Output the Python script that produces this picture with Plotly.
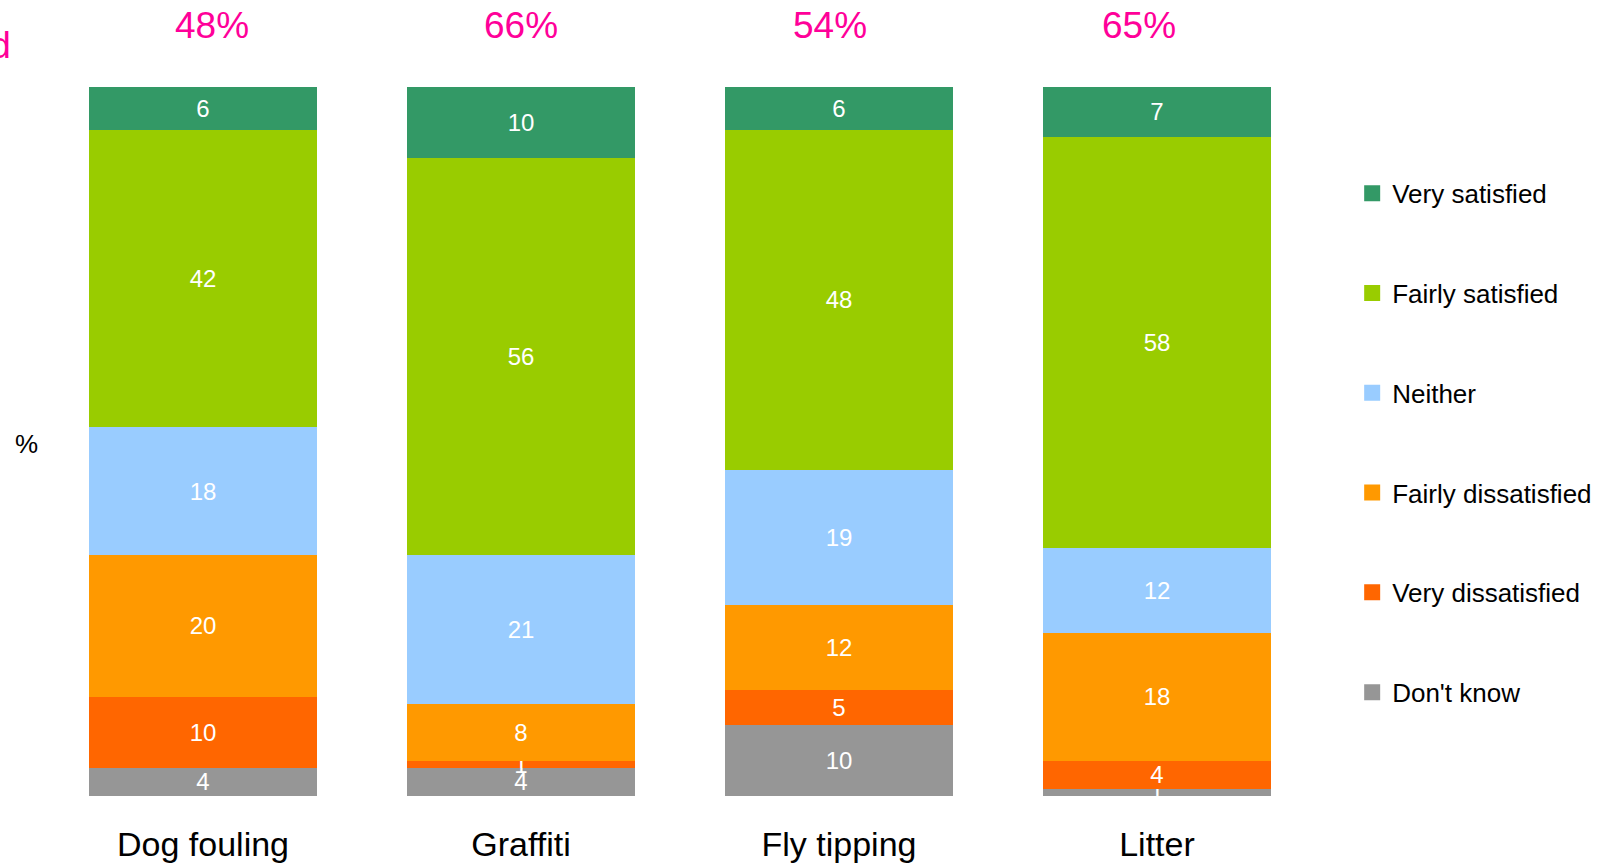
import plotly.graph_objects as go

categories = ['Dog fouling', 'Graffiti', 'Fly tipping', 'Litter']
satisfied_pct = ['48%', '66%', '54%', '65%']

# stacked bottom -> top
dont_know = [4, 4, 10, 1]
very_dissatisfied = [10, 1, 5, 4]
fairly_dissatisfied = [20, 8, 12, 18]
neither = [18, 21, 19, 12]
fairly_satisfied = [42, 56, 48, 58]
very_satisfied = [6, 10, 6, 7]

series = [
    ("Don't know", dont_know, '#969696'),
    ('Very dissatisfied', very_dissatisfied, '#FF6600'),
    ('Fairly dissatisfied', fairly_dissatisfied, '#FF9900'),
    ('Neither', neither, '#99CCFF'),
    ('Fairly satisfied', fairly_satisfied, '#99CC00'),
    ('Very satisfied', very_satisfied, '#339966'),
]

FONT = 'Liberation Sans, Arial, sans-serif'
PINK = '#FF0099'

fig = go.Figure()
for i, (name, vals, col) in enumerate(series):
    fig.add_trace(go.Bar(
        x=categories, y=vals, name=name, legendgroup=name, showlegend=False,
        marker=dict(color=col, line=dict(width=0)),
        text=[str(v) for v in vals], textposition='inside', textangle=0,
        insidetextanchor='middle', constraintext='none',
        textfont=dict(color='white', size=24, family=FONT),
        hoverinfo='name+y',
    ))
    # legend-only entry so the swatch can be a bigger square
    fig.add_trace(go.Scatter(
        x=[None], y=[None], mode='markers', name=name, legendgroup=name,
        legendrank=len(series) - i,
        marker=dict(color=col, symbol='square', size=16),
    ))

# the % satisfied labels sit on a slightly tighter spacing than the bars
for i, (cat, pct) in enumerate(zip(categories, satisfied_pct)):
    fig.add_annotation(x=cat, y=1.0866, xref='x', yref='paper', text=pct,
                       xshift=9.2 * (1 - i), yanchor='middle', showarrow=False,
                       font=dict(color=PINK, size=37, family=FONT))

# title text that runs off the left edge in the original
fig.add_annotation(x=-0.0244, y=1.058, xref='paper', yref='paper', text='% satisfied',
                   xanchor='right', yanchor='middle', showarrow=False,
                   font=dict(color=PINK, size=37, family=FONT))
fig.add_annotation(x=-0.0134, y=0.497, xref='paper', yref='paper', text='%',
                   xanchor='center', yanchor='middle', showarrow=False,
                   font=dict(color='black', size=26, family=FONT))

fig.update_layout(
    barmode='stack',
    bargap=0.283,
    width=1604, height=866,
    margin=dict(l=44, r=288, t=87, b=70, autoexpand=False),
    paper_bgcolor='white', plot_bgcolor='white',
    font=dict(family=FONT, color='black'),
    showlegend=True,
    legend=dict(
        traceorder='grouped', tracegroupgap=63, maxheight=900,
        itemsizing='trace',
        xref='container', yref='container',
        x=0.843, xanchor='left', y=0.804, yanchor='top',
        font=dict(size=26, family=FONT), bgcolor='rgba(0,0,0,0)',
    ),
    xaxis=dict(range=[-0.5, 3.5], showline=False, showgrid=False, ticks='',
               ticklabelstandoff=25, automargin=False,
               tickfont=dict(size=34, family=FONT, color='black')),
    yaxis=dict(range=[0, 100], visible=False, showgrid=False, automargin=False),
)

fig.write_html("out.html", config={'displayModeBar': False},
               post_script="document.body.style.margin = '0';")
